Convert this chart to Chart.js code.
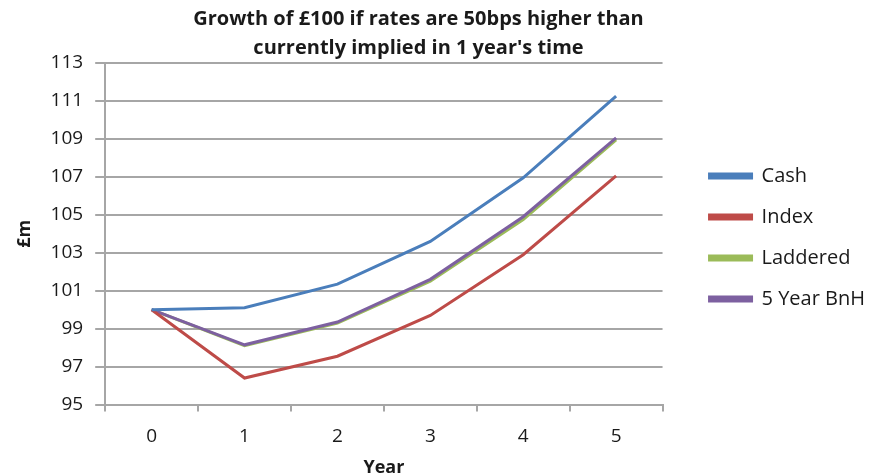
<!DOCTYPE html>
<html>
<head>
<meta charset="utf-8">
<script src="https://cdn.jsdelivr.net/npm/chart.js@4/dist/chart.umd.min.js"></script>
<style>
    html, body { margin: 0; padding: 0; background: #fff; }
    #wrap { width: 883px; height: 475px; position: relative; }
</style>
</head>
<body>
<div id="wrap"><canvas id="growthChart"></canvas></div>
<script>
const years = ['0', '1', '2', '3', '4', '5'];
const cash = [100, 100.1, 101.35, 103.6, 106.95, 111.25];
const index = [100, 96.4, 97.55, 99.7, 102.9, 107.05];
const laddered = [100, 98.1, 99.3, 101.5, 104.75, 108.95];
const buyAndHold = [100, 98.15, 99.35, 101.6, 104.9, 109.05];
const yTicks = [95, 97, 99, 101, 103, 105, 107, 109, 111, 113];

const FONT = '"Open Sans", Lato, sans-serif';
const GRID = '#a6a6a6';
const TEXT = '#1a1a1a';

function series(label, data, color, order) {
    return {
        label: label,
        data: data,
        borderColor: color,
        backgroundColor: color,
        borderWidth: 3,
        pointRadius: 0,
        tension: 0,
        order: order,
        yAxisID: 'y'
    };
}

// nudge the title block left so it sits over the plot rather than the legend
const titleShift = {
    id: 'titleShift',
    afterLayout(chart) {
        const t = chart.titleBlock;
        t.left -= 24;
        t.right -= 24;
    }
};

const ctx = document.getElementById('growthChart').getContext('2d');
new Chart(ctx, {
    type: 'line',
    data: {
        labels: years,
        datasets: [
            series('Cash', cash, '#4a7ebb', 0),
            series('Index', index, '#be4b48', 1),
            series('Laddered', laddered, '#9bbb59', 3),
            series('5 Year BnH', buyAndHold, '#7d60a0', 2)
        ]
    },
    plugins: [titleShift],
    options: {
        responsive: true,
        maintainAspectRatio: false,
        animation: false,
        layout: { padding: { left: 10, right: 8, top: 0, bottom: 0 } },
        scales: {
            x: {
                offset: true,
                grid: {
                    offset: true,
                    drawOnChartArea: false,
                    drawTicks: true,
                    tickLength: 7,
                    color: GRID,
                    lineWidth: 2
                },
                border: { color: GRID, width: 2 },
                ticks: { color: TEXT, font: { family: FONT, size: 19, lineHeight: 1 }, padding: 15 },
                title: {
                    display: true,
                    text: 'Year',
                    color: TEXT,
                    font: { family: FONT, size: 18, weight: 'bold', lineHeight: 0.8 },
                    padding: { top: 0, bottom: 0 }
                }
            },
            y: {
                min: 95,
                max: 113,
                afterBuildTicks: axis => {
                    axis.ticks = yTicks.map(v => ({ value: v }));
                },
                grid: {
                    color: GRID,
                    lineWidth: 2,
                    tickLength: 10
                },
                border: { color: GRID, width: 2 },
                ticks: { color: TEXT, font: { family: FONT, size: 19 }, padding: 12 },
                title: {
                    display: true,
                    text: '£m',
                    color: TEXT,
                    font: { family: FONT, size: 18, weight: 'bold' },
                    padding: { bottom: 3 }
                }
            },
            // empty spacer between the plot and the legend
            gap: {
                type: 'linear',
                position: 'right',
                display: true,
                grid: { display: false },
                border: { display: false },
                ticks: { display: false },
                afterFit: scale => { scale.width = 26; }
            }
        },
        plugins: {
            title: {
                display: true,
                text: ['Growth of £100 if rates are 50bps higher than', "currently implied in 1 year's time"],
                color: TEXT,
                font: { family: FONT, size: 20, weight: 'bold', lineHeight: 1.45 },
                padding: { top: 5, bottom: 0 }
            },
            legend: {
                position: 'right',
                maxWidth: 240,
                labels: {
                    boxWidth: 42,
                    boxHeight: 4,
                    padding: 21,
                    color: TEXT,
                    font: { family: FONT, size: 20 },
                    sort: (a, b) => a.datasetIndex - b.datasetIndex
                }
            },
            tooltip: { enabled: false }
        }
    }
});
</script>
</body>
</html>
